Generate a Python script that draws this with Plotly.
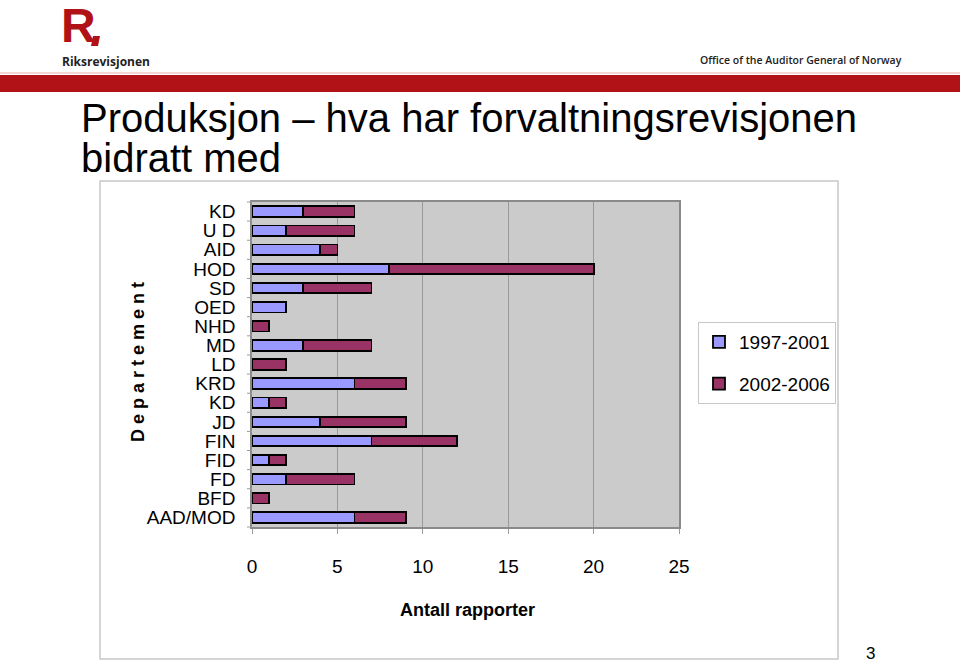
import plotly.graph_objects as go

categories = ["KD", "U D", "AID", "HOD", "SD", "OED", "NHD", "MD", "LD",
              "KRD", "KD", "JD", "FIN", "FID", "FD", "BFD", "AAD/MOD"]
series_names = ["1997-2001", "2002-2006"]
values_1997_2001 = [3, 2, 4, 8, 3, 2, 0, 3, 0, 6, 1, 4, 7, 1, 2, 0, 6]
values_2002_2006 = [3, 4, 1, 12, 4, 0, 1, 4, 2, 3, 1, 5, 5, 1, 4, 1, 3]
x_ticks = [0, 5, 10, 15, 20, 25]
colors = ["#9999FF", "#993366"]

W, H = 960, 664
def px(x):
    return x / W
def py(y):
    return 1 - y / H

positions = list(range(len(categories)))

fig = go.Figure()
for i, (name, vals) in enumerate(zip(series_names, [values_1997_2001, values_2002_2006])):
    fig.add_trace(go.Bar(
        y=positions, x=vals, name=name, orientation="h",
        marker=dict(color=colors[i], line=dict(color="black", width=1.8)),
        legendgroup=name,
    ))

sans = "Liberation Sans, Arial"

fig.update_layout(
    width=W, height=H, autosize=False,
    margin=dict(l=0, r=0, t=0, b=0, pad=0),
    paper_bgcolor="white",
    plot_bgcolor="#CBCBCB",
    barmode="stack",
    bargap=0.45,
    showlegend=True,
    legend=dict(
        x=px(698), y=py(322), xanchor="left", yanchor="top",
        bgcolor="white", bordercolor="#C8C8C8", borderwidth=1,
        font=dict(family=sans, size=19, color="black"),
        tracegroupgap=14, traceorder="grouped",
        itemwidth=30,
    ),
    xaxis=dict(
        domain=[px(252), px(679)],
        range=[0, 25], tickvals=x_ticks,
        showgrid=True, gridcolor="#9A9A9A", gridwidth=1,
        ticks="outside", ticklen=5, tickcolor="#9A9A9A",
        tickfont=dict(family=sans, size=19, color="black"),
        ticklabelstandoff=16,
        showline=True, linecolor="#8A8A8A", mirror=True, linewidth=1.5,
        zeroline=False, fixedrange=True, automargin=False,
    ),
    yaxis=dict(
        domain=[py(527), py(202)],
        range=[len(categories) - 0.5, -0.5],
        tickvals=positions, ticktext=categories,
        tickfont=dict(family=sans, size=19, color="black"),
        ticks="", ticklabelstandoff=11,
        showgrid=False, zeroline=False,
        showline=True, linecolor="#8A8A8A", mirror=True, linewidth=1.5,
        fixedrange=True, automargin=False,
    ),
)

shapes = [
    # chart frame
    dict(type="rect", xref="paper", yref="paper", x0=px(100), x1=px(838), y0=py(659), y1=py(181),
         line=dict(color="#C8C8C8", width=1.5), fillcolor="rgba(0,0,0,0)", layer="below"),
    # red banner
    dict(type="rect", xref="paper", yref="paper", x0=0, x1=1, y0=py(92), y1=py(75),
         line=dict(width=0), fillcolor="#B01217"),
    dict(type="line", xref="paper", yref="paper", x0=0, x1=1, y0=py(73), y1=py(73),
         line=dict(width=1.5, color="#F2C9CA")),
    # logo dot
    dict(type="path", xref="paper", yref="paper",
         path=f"M {px(93)},{py(36)} L {px(100)},{py(36)} L {px(98)},{py(46)} L {px(91)},{py(46)} Z",
         line=dict(width=0), fillcolor="#B01217"),
]
# category boundary ticks on y-axis
for k in range(len(categories) + 1):
    yk = 202 + k * (527 - 202) / len(categories)
    shapes.append(dict(type="line", xref="paper", yref="paper", x0=px(247), x1=px(252),
                       y0=py(yk), y1=py(yk), line=dict(color="#9A9A9A", width=1)))
fig.update_layout(shapes=shapes)

def ann(text, x, y, xanchor="left", yanchor="middle", **font):
    return dict(text=text, x=px(x), y=py(y), xref="paper", yref="paper",
                xanchor=xanchor, yanchor=yanchor, showarrow=False, font=font)

annotations = [
    ann("R", 59, 25, family=sans, size=48, color="#B01217", weight="bold"),
    ann("Riksrevisjonen", 60, 61, family="Open Sans, Liberation Sans", size=12, color="#222222", weight="bold"),
    ann("Office of the Auditor General of Norway", 904, 60, xanchor="right",
        family="Open Sans, Liberation Sans", size=10.5, color="#222222", weight=600),
    ann("Produksjon – hva har forvaltningsrevisjonen", 79, 118, family=sans, size=40, color="black"),
    ann("bidratt med", 79, 158, family=sans, size=40, color="black"),
    ann("Antall rapporter", 467, 610, xanchor="center", family=sans, size=18, color="black", weight="bold"),
    ann("3", 870, 653, xanchor="center", family=sans, size=17, color="black"),
]
dep = ann("D e p a r t e m e n t", 138, 362, xanchor="center", family=sans, size=18, color="black", weight="bold")
dep["textangle"] = -90
annotations.append(dep)
fig.update_layout(annotations=annotations)

fig.write_html("out.html")
